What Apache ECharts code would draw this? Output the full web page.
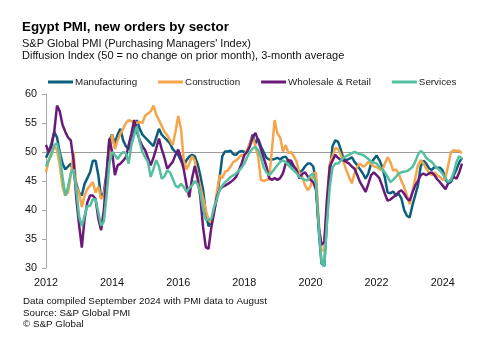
<!DOCTYPE html>
<html>
<head>
<meta charset="utf-8">
<script src="https://cdn.jsdelivr.net/npm/echarts@6/dist/echarts.min.js"></script>
<style>
html,body{margin:0;padding:0;background:#fff;}
#chart{width:497px;height:352px;}
</style>
</head>
<body>
<div id="chart"></div>
<script>
// Months Jan 2012 .. Aug 2024
var years = [2012,2013,2014,2015,2016,2017,2018,2019,2020,2021,2022,2023,2024];
var lastMonth = 8; // data to August 2024
var categories = [];
years.forEach(function(y){
  var n = (y === 2024) ? lastMonth : 12;
  for (var m = 1; m <= n; m++) categories.push(y + '-' + (m < 10 ? '0' + m : m));
});
var xTickLabels = ['2012','2014','2016','2018','2020','2022','2024'];
var yTicks = [30,35,40,45,50,55,60];

var manufacturing = [
  49, 50, 51.5, 53.5, 52.5, 50, 48, 47, 47.5, 48, 46.5, 44.5,
  43, 42.5, 44.5, 45.5, 46.5, 48.5, 48.5, 46, 42, 43, 46.5, 52,
  53, 51.5, 53, 54, 52, 51, 50.5, 51.5, 53.5, 55.5, 54, 53,
  52.5, 52, 51.5, 51, 52.5, 54, 53, 52.5, 52, 51.5, 50.5, 50,
  49.5, 48.5, 47.5, 48.6, 49.2, 49.5, 49.3, 48, 46, 43.5, 39.5, 37.2,
  38, 40, 42, 45.5, 49.3, 50.1, 50.1, 50.2, 49.6, 49.5, 50, 50.2,
  50, 50, 51.5, 53, 51.5, 52.3, 51, 50, 49, 48.7, 48.7, 48.8,
  49, 48.7, 49.1, 49.2, 48.5, 47.8, 47.4, 47, 46.5, 46.8, 47.5, 48,
  48, 47.5, 45, 36.5, 30.8, 30.3, 38.3, 46.4, 51, 52, 51.8, 50.4,
  48.8, 48.6, 48.8, 49.1, 48.3, 47.7, 47, 46.3, 45.4, 46.3, 48, 48.8,
  49.4, 48.6, 47.5, 45.6, 43, 42.9, 43.2, 42.5, 42.8, 42, 40, 39,
  38.7, 40.8, 42.5, 44.2, 47.5, 48.5, 48, 47.2, 46.9, 47.4, 47.3, 47.3,
  46.8, 45.3, 44.6, 44.8, 46, 47, 48.2, 49
];
var construction = [
  46.5, 48.5, 50, 51, 50.3, 47.7, 44, 42.5, 43, 46, 50, 44,
  43, 40.5, 42.5, 43.6, 44.2, 44.8, 43, 44, 41.9, 42.5, 45.4, 49.4,
  53, 50.5, 52, 53.2, 54, 55, 55.5, 55.3, 55.2, 55, 55.2, 55,
  56.3, 56.6, 57, 58, 56.5, 55.5, 54.5, 53.5, 52.9, 52, 51.2, 53.5,
  56.2, 54, 48.5, 47, 48, 49.3, 48.5, 46, 44, 42, 40, 38.3,
  37.8, 40, 43, 46, 45.5, 46.6, 46.8, 47.5, 48.3, 48.5, 49, 49.5,
  49.4, 50.4, 51.5, 52.6, 51, 49.2, 45.2, 45, 45.2, 45.3, 50.4, 55.5,
  53.2, 52.5, 50.1, 51.2, 49.8, 50, 49.2, 48.3, 46.3, 45.7, 44.3, 43.4,
  44, 46.3, 46.5, 38, 33, 33, 41, 48, 49.3, 50.7, 50.5, 49.5,
  48.3, 46.9, 45.7, 44.6, 46.3, 47.5, 48, 47.5, 47.7, 48.3, 48, 47.5,
  47.4, 47.1, 46.8, 48, 49.1, 48.3, 46.8, 47, 46.3, 45, 44, 42.5,
  41, 43.1, 45.4, 47.7, 48.6, 48, 47.2, 46.5, 46, 46.5, 46, 45.7,
  45.2, 45.5, 47.7, 50, 50.3, 50.2, 50.2, 49.8
];
var wholesaleRetail = [
  51.2, 50, 51, 53.5, 58, 57, 54.7, 53.5, 52.5, 52, 48.5, 42,
  37.5, 33.5, 38.5, 41.3, 42.5, 42.5, 41.9, 38.5, 36.5, 40, 46, 52.3,
  50, 46, 47.7, 48, 48.5, 49.1, 51.2, 53.2, 55.5, 53.5, 52, 51,
  50.3, 49, 47.7, 49, 50.6, 52.3, 50.5, 49, 47.1, 47.7, 48.3, 49.5,
  50.4, 49, 47, 44.3, 42.2, 45.4, 47.6, 45.5, 42.3, 37.1, 33.6, 33.3,
  37, 39.5, 42.2, 43.5, 44, 44.2, 44.5, 44.8, 45.2, 45.7, 46.8, 48,
  49.5, 50, 51, 52.5, 53.3, 52, 50.5, 49, 47.5, 45.5, 45.2, 45.5,
  45.2, 45.5, 46.3, 48, 48.6, 48.5, 47.5, 46.8, 45.4, 46.2, 46.5, 45.8,
  45.2, 44.8, 43.5, 37, 34, 34.5, 42, 47.5, 48.5, 49.5, 49, 48.6,
  48.6, 48.3, 48, 47.5, 47.1, 46, 44.8, 44, 43.1, 44.5, 46, 46.5,
  46, 45.5, 44.2, 42.8, 41.6, 41.8, 42.2, 42.5, 43.1, 43.4, 42.8, 42,
  41.6, 43, 44.2, 45, 46, 46.3, 46, 46.3, 46.5, 46, 45.3, 44.8,
  44.2, 43.6, 44.6, 45.3, 45.7, 45.4, 46.5, 48
];
var services = [
  47.5, 48.6, 49.5, 51.2, 51.5, 49.5, 45.7, 42.5, 44, 46.4, 47, 43.5,
  38.9, 37.2, 39, 40.7, 40.7, 41.9, 41.8, 39.6, 37.3, 38, 42.5, 48,
  50, 49.5, 48.8, 49.5, 50, 49.8, 48, 51.2, 52.9, 54.4, 51.7, 50,
  49.1, 48.3, 45.7, 47.1, 48.6, 47.5, 45.4, 45.8, 46.8, 46.5, 45.4, 44.2,
  43.9, 44.5, 44, 43.1, 43.8, 44.2, 45, 44.5, 43, 40.2, 38.3, 38.3,
  38.5, 40.5, 41.8, 43.5, 44.2, 44.8, 45.2, 45.7, 46, 46.3, 46.8, 47.3,
  48, 49.1, 50, 50.6, 50.9, 50.3, 49.1, 47.4, 46.5, 46, 46.5, 47.1,
  47.7, 48.3, 48.5, 48.3, 47.7, 47.2, 46.8, 46.3, 45.7, 45.4, 45.2, 45.1,
  46, 46.3, 44.5, 37, 31, 30.3, 38, 44, 47.3, 48, 48, 48.5,
  49, 49.3, 49.5, 49.8, 50, 49.8, 49.6, 49.5, 49.2, 48.8, 48.3, 48.2,
  48, 47.5, 47, 46.5, 45.7, 44.8, 45.2, 45.7, 46.3, 46.5, 46.6, 46.7,
  47, 47.4, 48.3, 49.5, 50.2, 49.8, 49, 48.6, 48.3, 47.7, 47.2, 46.8,
  46.2, 45.5, 44.8, 45.2, 46.5, 48.3, 49.3, 48.8
];

var seriesNames = ['Manufacturing','Construction','Wholesale & Retail','Services'];
var seriesColors = ['#0c5f7c','#f5a54a','#6a1b7a','#55bfa0'];
var seriesData = [manufacturing, construction, wholesaleRetail, services];
var noChangeLevel = 50;

var FONT = '"Liberation Sans", Arial, sans-serif';
var chart = echarts.init(document.getElementById('chart'), null, {renderer:'canvas'});

var series = seriesNames.map(function(name, i){
  var s = {
    name: name,
    type: 'line',
    data: seriesData[i],
    symbol: 'none',
    smooth: false,
    lineStyle: {width: 2.5, color: seriesColors[i]},
    itemStyle: {color: seriesColors[i]},
    z: 2 + i
  };
  if (i === 0) {
    s.markLine = {
      silent: true,
      symbol: ['none','none'],
      z: 1,
      label: {show: false},
      lineStyle: {color: '#9a9a9a', width: 1, type: 'solid'},
      data: [{yAxis: noChangeLevel}]
    };
  }
  return s;
});

chart.setOption({
  animation: false,
  backgroundColor: '#fff',
  textStyle: {fontFamily: FONT},
  graphic: [
    {type:'text', left: 22, top: 20.5, style:{text:'Egypt PMI, new orders by sector', font:'bold 13.4px ' + FONT, fill:'#000'}},
    {type:'text', left: 22, top: 38.5, style:{text:"S&P Global PMI (Purchasing Managers' Index)", font:'11px ' + FONT, fill:'#111'}},
    {type:'text', left: 22, top: 50.5, style:{text:'Diffusion Index (50 = no change on prior month), 3-month average', font:'11px ' + FONT, fill:'#111'}},
    {type:'text', left: 23, top: 296.5, style:{text:'Data compiled September 2024 with PMI data to August', font:'9.8px ' + FONT, fill:'#111'}},
    {type:'text', left: 23, top: 308, style:{text:'Source: S&P Global PMI', font:'9.8px ' + FONT, fill:'#111'}},
    {type:'text', left: 23, top: 319.5, style:{text:'\u00A9 S&P Global', font:'9.8px ' + FONT, fill:'#111'}}
  ],
  legend: {
    data: seriesNames,
    left: 43,
    top: 72,
    icon: 'rect',
    itemWidth: 25,
    itemHeight: 3,
    itemGap: 21,
    textStyle: {fontSize: 9.8, color: '#222', fontFamily: FONT, padding: [0,0,0,-3]}
  },
  grid: {left: 46, right: 35, top: 94, bottom: 84, containLabel: false},
  xAxis: {
    type: 'category',
    data: categories,
    boundaryGap: false,
    axisLine: {show: false},
    axisTick: {show: false},
    splitLine: {show: false},
    axisLabel: {
      interval: function(idx, val){ return xTickLabels.indexOf(val.slice(0,4)) >= 0 && val.slice(5) === '01'; },
      formatter: function(val){ return val.slice(0,4); },
      fontSize: 10.8, color: '#111', margin: 10, fontFamily: FONT
    }
  },
  yAxis: {
    type: 'value',
    min: yTicks[0],
    max: yTicks[yTicks.length-1],
    interval: 5,
    axisLine: {show: true, lineStyle: {color: '#a6a6a6', width: 1}},
    axisTick: {show: true, length: 4, lineStyle: {color: '#a6a6a6'}},
    splitLine: {show: false},
    axisLabel: {fontSize: 10.8, color: '#111', margin: 9, fontFamily: FONT}
  },
  series: series
});
</script>
</body>
</html>
